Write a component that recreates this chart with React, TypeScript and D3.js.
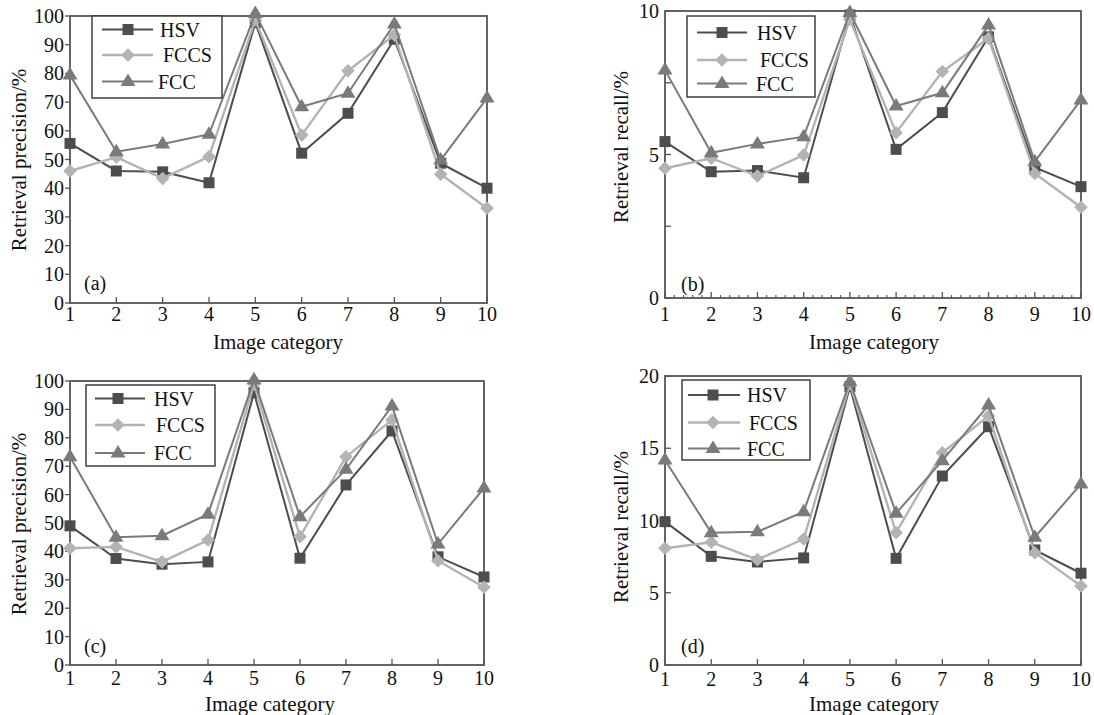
import React from 'react';
import * as d3 from 'd3';

// ---------------- data ----------------
const categories = [1, 2, 3, 4, 5, 6, 7, 8, 9, 10];
const seriesNames = ['HSV', 'FCCS', 'FCC'];

const precisionA_HSV = [55.6, 46, 45.7, 41.9, 97.7, 52.2, 66.1, 91.9, 48.7, 40];
const precisionA_FCCS = [46, 50.8, 43.4, 51, 98.6, 58.5, 80.9, 93.4, 44.9, 33];
const precisionA_FCC = [79.4, 52.7, 55.4, 58.8, 100.9, 68.4, 73.1, 97.2, 49.8, 71.4];

const recallB_HSV = [5.45, 4.4, 4.44, 4.19, 9.86, 5.18, 6.46, 9.1, 4.55, 3.88];
const recallB_FCCS = [4.52, 4.87, 4.25, 4.98, 9.71, 5.76, 7.89, 9.05, 4.34, 3.16];
const recallB_FCC = [7.94, 5.06, 5.37, 5.62, 9.95, 6.69, 7.15, 9.51, 4.75, 6.9];

const precisionC_HSV = [49.0, 37.5, 35.5, 36.3, 95.9, 37.6, 63.4, 82.4, 38.1, 31];
const precisionC_FCCS = [41.1, 41.6, 36.3, 44.0, 98.9, 45.2, 73.3, 86.3, 36.7, 27.4];
const precisionC_FCC = [73.3, 45.0, 45.5, 53.1, 100.4, 52.2, 68.9, 91.2, 42.6, 62.3];

const recallD_HSV = [9.92, 7.52, 7.13, 7.41, 19.26, 7.38, 13.08, 16.49, 7.96, 6.35];
const recallD_FCCS = [8.08, 8.49, 7.29, 8.72, 19.45, 9.16, 14.69, 17.23, 7.77, 5.47];
const recallD_FCC = [14.19, 9.16, 9.22, 10.61, 19.6, 10.5, 14.14, 17.99, 8.84, 12.53];

const precisionTicks = [0, 10, 20, 30, 40, 50, 60, 70, 80, 90, 100];
const recallBTicks = [0, 5, 10];
const recallBMinorTicks = [2.5, 7.5];
const recallDTicks = [0, 5, 10, 15, 20];

const xTitle = 'Image category';
const precisionTitle = 'Retrieval precision/%';
const recallTitle = 'Retrieval recall/%';

// ---------------- style ----------------
const FONT = "'Liberation Serif', 'Times New Roman', serif";
const AXIS = '#555555';
const seriesStyle = [
  { color: '#4d4d4d', marker: 'square', width: 2 },
  { color: '#b3b3b3', marker: 'diamond', width: 2.4 },
  { color: '#7a7a7a', marker: 'triangle', width: 2 },
];

type PanelCfg = {
  tag: string;
  left: number; right: number; top: number; bottom: number;
  domain: [number, number];
  yTicks: number[];
  yMinor: number[];
  yTickOut: boolean;
  xMinor: boolean;
  yTitle: string;
  series: number[][];
  legend: { x: number; y: number; w: number; h: number; l0: number; l1: number; mx: number; tx: number[]; rows: number[] };
  yTitlePos: [number, number];
  xTitlePos: [number, number];
  tagPos: [number, number];
  xTickBase: number;
};

const panels: PanelCfg[] = [
  {
    tag: '(a)', left: 70, right: 487, top: 16, bottom: 303, domain: [0, 100],
    yTicks: precisionTicks, yMinor: [], yTickOut: true, xMinor: false, yTitle: precisionTitle,
    series: [precisionA_HSV, precisionA_FCCS, precisionA_FCC],
    legend: { x: 92, y: 16, w: 130, h: 82, l0: 102, l1: 153, mx: 128, tx: [160, 163, 158], rows: [29.5, 55, 81.5] },
    yTitlePos: [26, 160], xTitlePos: [278, 349], tagPos: [84, 290], xTickBase: 321,
  },
  {
    tag: '(b)', left: 665, right: 1081, top: 11, bottom: 298, domain: [0, 10],
    yTicks: recallBTicks, yMinor: recallBMinorTicks, yTickOut: false, xMinor: true, yTitle: recallTitle,
    series: [recallB_HSV, recallB_FCCS, recallB_FCC],
    legend: { x: 687, y: 16, w: 128, h: 81, l0: 697, l1: 747, mx: 722, tx: [757, 760, 756], rows: [32.5, 60, 83.5] },
    yTitlePos: [628, 147], xTitlePos: [874, 349], tagPos: [681, 291], xTickBase: 321,
  },
  {
    tag: '(c)', left: 70, right: 484, top: 381, bottom: 665, domain: [0, 100],
    yTicks: precisionTicks, yMinor: [], yTickOut: true, xMinor: false, yTitle: precisionTitle,
    series: [precisionC_HSV, precisionC_FCCS, precisionC_FCC],
    legend: { x: 86, y: 385, w: 129, h: 81, l0: 95, l1: 145, mx: 118, tx: [154, 156, 154], rows: [398.5, 425, 453] },
    yTitlePos: [26, 524], xTitlePos: [270, 711], tagPos: [84, 653], xTickBase: 685,
  },
  {
    tag: '(d)', left: 665, right: 1081, top: 376, bottom: 665, domain: [0, 20],
    yTicks: recallDTicks, yMinor: [], yTickOut: false, xMinor: false, yTitle: recallTitle,
    series: [recallD_HSV, recallD_FCCS, recallD_FCC],
    legend: { x: 682, y: 380, w: 128, h: 80, l0: 688, l1: 740, mx: 713, tx: [747, 749, 747], rows: [395, 422.5, 448.5] },
    yTitlePos: [628, 527], xTitlePos: [874, 711], tagPos: [681, 653], xTickBase: 686,
  },
];

function Marker({ type, cx, cy, color }: { type: string; cx: number; cy: number; color: string }) {
  if (type === 'square') {
    const s = 11;
    return <rect x={cx - s / 2} y={cy - s / 2} width={s} height={s} fill={color} />;
  }
  if (type === 'diamond') {
    const r = 6.8;
    return <path d={`M${cx},${cy - r}L${cx + r},${cy}L${cx},${cy + r}L${cx - r},${cy}Z`} fill={color} />;
  }
  return <path d={`M${cx},${cy - 8}L${cx + 7.5},${cy + 4.5}L${cx - 7.5},${cy + 4.5}Z`} fill={color} />;
}

function Panel({ cfg }: { cfg: PanelCfg }) {
  const x = d3.scaleLinear().domain([1, 10]).range([cfg.left, cfg.right]);
  const y = d3.scaleLinear().domain(cfg.domain).range([cfg.bottom, cfg.top]);
  const line = d3
    .line<number>()
    .x((_, i) => x(categories[i]))
    .y((d) => y(d));
  const minorX = cfg.xMinor
    ? d3.range(1, 10, 0.2).filter((v) => Math.abs(v - Math.round(v)) > 0.01)
    : [];
  const lg = cfg.legend;
  return (
    <g>
      {/* frame */}
      <rect
        x={cfg.left}
        y={cfg.top}
        width={cfg.right - cfg.left}
        height={cfg.bottom - cfg.top}
        fill="none"
        stroke={AXIS}
        strokeWidth={1.8}
      />
      {/* x ticks */}
      {categories.map((c) => (
        <g key={'xt' + c}>
          <line x1={x(c)} x2={x(c)} y1={cfg.bottom} y2={cfg.bottom - 6} stroke={AXIS} strokeWidth={1.3} />
          <text x={x(c)} y={cfg.xTickBase} textAnchor="middle" fontSize={20} fontFamily={FONT} fill="#111">
            {c}
          </text>
        </g>
      ))}
      {minorX.map((v, i) => (
        <line key={'mx' + i} x1={x(v)} x2={x(v)} y1={cfg.bottom} y2={cfg.bottom - 3} stroke={AXIS} strokeWidth={1.1} />
      ))}
      {/* y ticks */}
      {cfg.yTicks.map((t) => (
        <g key={'yt' + t}>
          <line
            x1={cfg.left}
            x2={cfg.yTickOut ? cfg.left - 5 : cfg.left + 6}
            y1={y(t)}
            y2={y(t)}
            stroke={AXIS}
            strokeWidth={1.3}
          />
          <text x={cfg.left - 6} y={y(t) + 7} textAnchor="end" fontSize={20} fontFamily={FONT} fill="#111">
            {t}
          </text>
        </g>
      ))}
      {cfg.yMinor.map((t) => (
        <line key={'ym' + t} x1={cfg.left} x2={cfg.left + 6} y1={y(t)} y2={y(t)} stroke={AXIS} strokeWidth={1.3} />
      ))}
      {/* series */}
      {cfg.series.map((s, si) => (
        <g key={'s' + si}>
          <path d={line(s) || ''} fill="none" stroke={seriesStyle[si].color} strokeWidth={seriesStyle[si].width} />
          {s.map((v, i) => (
            <Marker key={i} type={seriesStyle[si].marker} cx={x(categories[i])} cy={y(v)} color={seriesStyle[si].color} />
          ))}
        </g>
      ))}
      {/* legend */}
      <rect x={lg.x} y={lg.y} width={lg.w} height={lg.h} fill="#fff" stroke="#333" strokeWidth={1.4} />
      {seriesNames.map((n, i) => (
        <g key={'lg' + n}>
          <line x1={lg.l0} x2={lg.l1} y1={lg.rows[i]} y2={lg.rows[i]} stroke={seriesStyle[i].color} strokeWidth={seriesStyle[i].width} />
          <Marker type={seriesStyle[i].marker} cx={lg.mx} cy={lg.rows[i]} color={seriesStyle[i].color} />
          <text x={lg.tx[i]} y={lg.rows[i] + 7} fontSize={20} fontFamily={FONT} fill="#111">
            {n}
          </text>
        </g>
      ))}
      {/* tag */}
      <text x={cfg.tagPos[0]} y={cfg.tagPos[1]} fontSize={20} fontFamily={FONT} fill="#111">
        {cfg.tag}
      </text>
      {/* titles */}
      <text
        x={cfg.xTitlePos[0]}
        y={cfg.xTitlePos[1]}
        textAnchor="middle"
        fontSize={21}
        fontFamily={FONT}
        fill="#111"
      >
        {xTitle}
      </text>
      <text
        transform={`translate(${cfg.yTitlePos[0]},${cfg.yTitlePos[1]}) rotate(-90)`}
        textAnchor="middle"
        fontSize={21}
        fontFamily={FONT}
        fill="#111"
      >
        {cfg.yTitle}
      </text>
    </g>
  );
}

export default function App() {
  return (
    <svg
      width={1094}
      height={715}
      style={{ position: 'absolute', left: 0, top: 0, background: '#fff' }}
    >
      <rect x={0} y={0} width={1094} height={715} fill="#fff" />
      {panels.map((p) => (
        <Panel key={p.tag} cfg={p} />
      ))}
    </svg>
  );
}
